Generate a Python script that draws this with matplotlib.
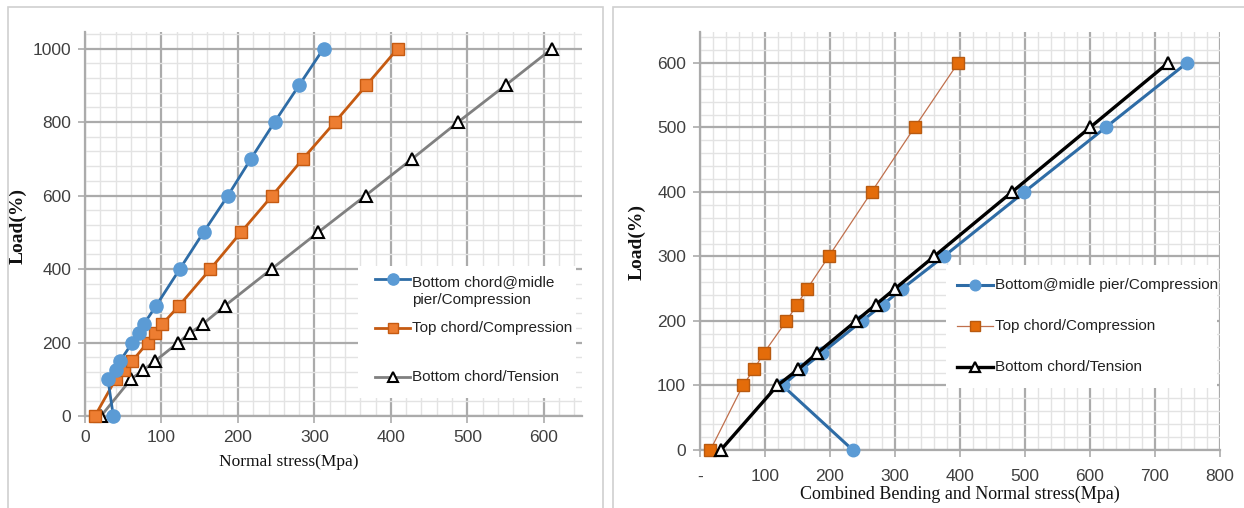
import matplotlib
matplotlib.use("Agg")
import matplotlib.pyplot as plt
from matplotlib.patches import Rectangle
from matplotlib.lines import Line2D
from matplotlib.ticker import MultipleLocator, FuncFormatter

# ---------------- data ----------------
load_left = [0, 100, 125, 150, 200, 225, 250, 300, 400, 500, 600, 700, 800, 900, 1000]
left_bottom_comp = [37, 30, 40, 46, 62, 70, 77, 93, 124, 155, 187, 217, 248, 280, 312]
left_top_comp = [13, 40, 51, 62, 82, 92, 101, 123, 164, 204, 245, 285, 327, 368, 409]
left_bottom_tens = [21, 60, 76, 92, 122, 137, 154, 183, 244, 305, 367, 428, 488, 550, 611]
left_labels = ["Bottom chord@midle\npier/Compression", "Top chord/Compression", "Bottom chord/Tension"]

load_right = [0, 100, 125, 150, 200, 225, 250, 300, 400, 500, 600]
right_bottom_comp = [235, 127, 156, 187, 249, 281, 311, 375, 499, 624, 749]
right_top_comp = [16, 66, 83, 98, 133, 149, 165, 198, 264, 330, 397]
right_bottom_tens = [32, 119, 151, 180, 240, 270, 300, 360, 480, 600, 720]
right_labels = ["Bottom@midle pier/Compression", "Top chord/Compression", "Bottom chord/Tension"]

left_xlabel = "Normal stress(Mpa)"
right_xlabel = "Combined Bending and Normal stress(Mpa)"
ylabel = "Load(%)"

# ---------------- style ----------------
TICK_FONT = ["Liberation Sans", "DejaVu Sans"]
SERIF = ["Liberation Serif", "DejaVu Serif"]
MAJ = "#ababab"
MIN = "#e3e3e3"
W, H = 1244, 508

fig = plt.figure(figsize=(W / 100, H / 100), dpi=100)

# panel borders
fig.patches.append(Rectangle((8 / W, -0.01), (603 - 8) / W, 1 - 7 / H + 0.01,
                             transform=fig.transFigure, fill=False,
                             edgecolor="#d0d0d0", lw=1.2))
fig.patches.append(Rectangle((613 / W, -0.01), (1250 - 613) / W, 1 - 7 / H + 0.01,
                             transform=fig.transFigure, fill=False,
                             edgecolor="#d0d0d0", lw=1.2))

axL = fig.add_axes([85 / W, 1 - 416 / H, (582 - 85) / W, (416 - 32) / H])
axR = fig.add_axes([700 / W, 1 - 450 / H, (1220 - 700) / W, (450 - 32) / H])


def style_axes(ax, xlim, ylim, xmaj, xmin, ymaj, ymin, dash_zero=False):
    ax.set_xlim(*xlim)
    ax.set_ylim(*ylim)
    ax.xaxis.set_major_locator(MultipleLocator(xmaj))
    ax.xaxis.set_minor_locator(MultipleLocator(xmin))
    ax.yaxis.set_major_locator(MultipleLocator(ymaj))
    ax.yaxis.set_minor_locator(MultipleLocator(ymin))
    ax.grid(which="minor", color=MIN, lw=1.0, zorder=0)
    ax.grid(which="major", color=MAJ, lw=1.6, zorder=0)
    ax.set_axisbelow(True)
    for s in ["top", "right"]:
        ax.spines[s].set_visible(False)
    for s in ["left", "bottom"]:
        ax.spines[s].set_color(MAJ)
        ax.spines[s].set_linewidth(1.6)
    ax.tick_params(which="major", length=5, width=1.2, color=MAJ, labelsize=12.5,
                   labelcolor="#404040", pad=5)
    ax.tick_params(which="minor", length=0)
    if dash_zero:
        ax.xaxis.set_major_formatter(FuncFormatter(lambda v, p: "-" if v == 0 else f"{v:g}"))
    for lab in ax.get_xticklabels() + ax.get_yticklabels():
        lab.set_family(TICK_FONT)
    ax.set_facecolor("white")


style_axes(axL, (0, 650), (0, 1045), 100, 20, 200, 40)
style_axes(axR, (0, 800), (0, 648), 100, 20, 100, 20, dash_zero=True)
axR.tick_params(axis="x", pad=9)
for lab in axR.get_xticklabels() + axR.get_yticklabels():
    lab.set_family(TICK_FONT)

# ---- left series ----
BLUE_L = "#2e6ca6"
BLUE_M = "#5b9bd5"
OR_L = "#c55a11"
OR_M = "#ed7d31"
GRAY_L = "#808080"

sL1 = dict(color=BLUE_L, lw=2.0, marker="o", ms=9.5, mfc=BLUE_M, mec=BLUE_M)
sL2 = dict(color=OR_L, lw=2.0, marker="s", ms=9, mfc=OR_M, mec=OR_L, mew=1.0)
sL3 = dict(color=GRAY_L, lw=2.0, marker="^", ms=8, mfc="white", mec="black", mew=1.5)

axL.plot(left_bottom_tens, load_left, zorder=3, clip_on=False, **sL3)
axL.plot(left_top_comp, load_left, zorder=4, clip_on=False, **sL2)
axL.plot(left_bottom_comp, load_left, zorder=5, clip_on=False, **sL1)

# ---- right series ----
sR1 = dict(color="#2e6ca6", lw=2.2, marker="o", ms=9, mfc=BLUE_M, mec=BLUE_M)
sR2 = dict(color="#c0704d", lw=0.9, marker="s", ms=9, mfc="#e46c0a", mec="#b85a10", mew=1.0)
sR3 = dict(color="black", lw=2.4, marker="^", ms=9, mfc="white", mec="black", mew=1.6)

axR.plot(right_bottom_comp, load_right, zorder=3, clip_on=False, **sR1)
axR.plot(right_top_comp, load_right, zorder=4, clip_on=False, **sR2)
axR.plot(right_bottom_tens, load_right, zorder=5, clip_on=False, **sR3)

# ---- axis labels ----
axL.set_xlabel(left_xlabel, family=SERIF, fontsize=12.5, color="#111111")
axL.xaxis.set_label_coords((289 - 85) / 497, (416 - 454) / 384)
axL.set_ylabel(ylabel, family=SERIF, fontsize=14, fontweight="bold", color="#111111")
axL.yaxis.set_label_coords((27 - 85) / 497, (416 - 226) / 384)
axR.set_xlabel(right_xlabel, family=SERIF, fontsize=13, color="#111111")
axR.xaxis.set_label_coords((960 - 700) / 520, (450 - 486) / 418)
axR.set_ylabel(ylabel, family=SERIF, fontsize=14, fontweight="bold", color="#111111")
axR.yaxis.set_label_coords((646 - 700) / 520, (450 - 242) / 418)


# ---- manual legends (Excel-like) ----
def px_legend(box, entries, fs):
    # box in figure pixels: x0, y0(top), x1, y1(bottom)
    x0, y0, x1, y1 = box
    tr = fig.transFigure
    fig.patches.append(Rectangle((x0 / W, 1 - y1 / H), (x1 - x0) / W, (y1 - y0) / H,
                                 transform=tr, facecolor="white", edgecolor="none", zorder=2))
    for (hx0, hx1, hy, ty, label, style) in entries:
        st = dict(style)
        ms = st.pop("ms")
        mk = st.pop("marker")
        mfc = st.pop("mfc"); mec = st.pop("mec"); mew = st.pop("mew", 1.0)
        fig.lines.append(Line2D([hx0 / W, hx1 / W], [1 - hy / H, 1 - hy / H], transform=tr,
                                color=st["color"], lw=st["lw"], zorder=3))
        fig.lines.append(Line2D([(hx0 + hx1) / 2 / W], [1 - hy / H], transform=tr, lw=0,
                                marker=mk, ms=ms * 0.85, mfc=mfc, mec=mec, mew=mew, zorder=4))
        fig.text(hx1 / W + 0.002, 1 - ty / H, label, family=TICK_FONT, fontsize=fs,
                 color="#222222", va="center", ha="left", zorder=5, linespacing=1.45)


px_legend((358, 266, 576, 398), [
    (375, 410, 279, 291, left_labels[0], sL1),
    (375, 410, 328, 328, left_labels[1], sL2),
    (375, 410, 377, 377, left_labels[2], sL3),
], 11)
px_legend((946, 265, 1217, 388), [
    (957, 993, 285, 285, right_labels[0], sR1),
    (957, 993, 326, 326, right_labels[1], sR2),
    (957, 993, 367, 367, right_labels[2], sR3),
], 11)

fig.savefig("out.png", dpi=100, facecolor="white")
